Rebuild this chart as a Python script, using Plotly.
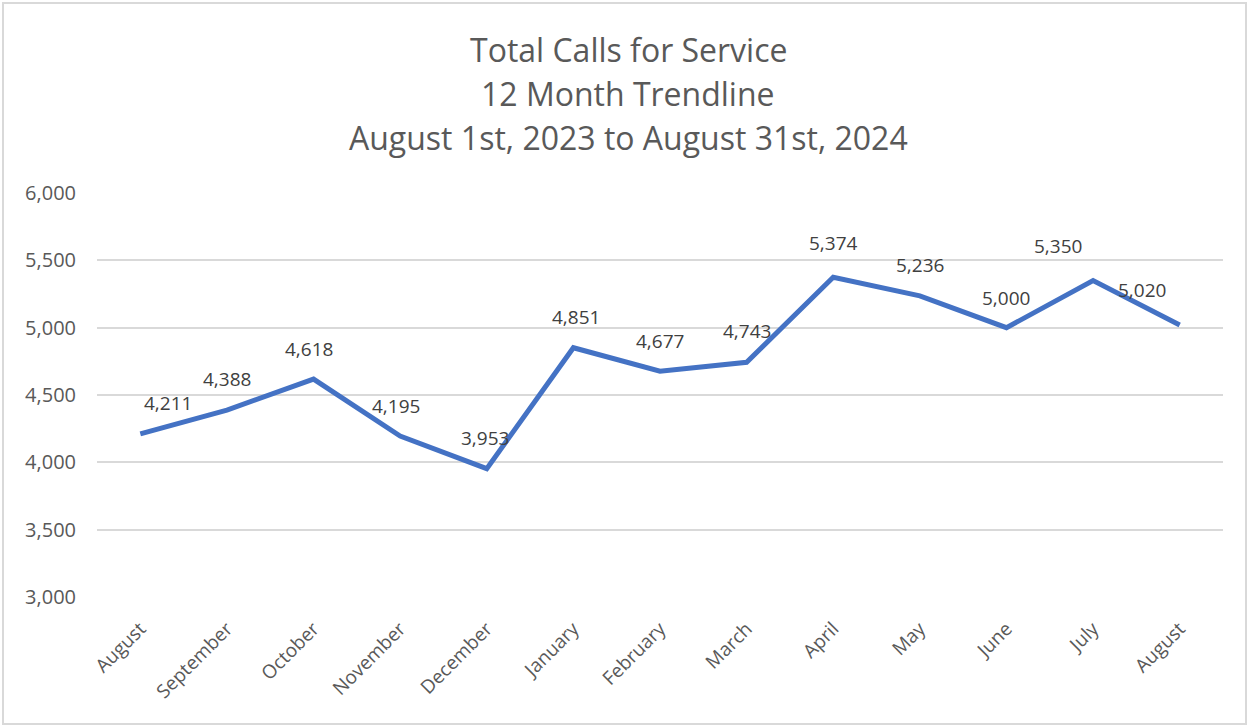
import plotly.graph_objects as go

months = ["August", "September", "October", "November", "December", "January",
          "February", "March", "April", "May", "June", "July", "August"]
calls = [4211, 4388, 4618, 4195, 3953, 4851, 4677, 4743, 5374, 5236, 5000, 5350, 5020]
y_ticks = [3000, 3500, 4000, 4500, 5000, 5500, 6000]
title_lines = ["Total Calls for Service", "12 Month Trendline",
               "August 1st, 2023 to August 31st, 2024"]

# label nudges (style only)
label_dx = [28, 0, -5, -4, -2, 3, 0, 0, 0, 0, 0, -35, -38]
label_dy = [31, 31, 30, 30, 31, 31, 30, 31, 34, 31, 30, 35, 35]

FONT = "Open Sans"
GRAY = "#595959"
idx = list(range(len(months)))

fig = go.Figure()
fig.add_trace(go.Scatter(
    x=idx, y=calls, mode="lines",
    line=dict(color="#4472C4", width=5),
    hoverinfo="skip", showlegend=False,
))

for i, v in enumerate(calls):
    fig.add_annotation(
        x=idx[i], y=v, text=f"{v:,}", showarrow=False,
        xshift=label_dx[i], yshift=label_dy[i],
        font=dict(family=FONT, size=19, color="#404040"),
    )

# title lines (page-pixel centres 50, 94, 137)
for k, line in enumerate(title_lines):
    fig.add_annotation(
        xref="paper", yref="paper",
        x=(628 - 97) / 1126, y=(597 - (50 + 43.5 * k)) / 404,
        xanchor="center", yanchor="middle",
        text=line, showarrow=False,
        font=dict(family=FONT, size=32, color=GRAY),
    )

fig.update_layout(
    width=1249, height=727,
    paper_bgcolor="white", plot_bgcolor="white",
    margin=dict(l=97, r=26, t=193, b=130),
    xaxis=dict(
        range=[-0.5, len(months) - 0.5],
        tickmode="array", tickvals=idx, ticktext=months,
        tickangle=-45, showgrid=False, zeroline=False, showline=False,
        ticks="", ticklabelstandoff=16,
        tickfont=dict(family=FONT, size=19, color=GRAY),
        fixedrange=True,
    ),
    yaxis=dict(
        range=[3000, 6000],
        tickmode="array", tickvals=y_ticks,
        tickformat=",d", showgrid=True, gridcolor="#D9D9D9", gridwidth=2,
        zeroline=False, showline=False, ticks="", ticklabelstandoff=20,
        tickfont=dict(family=FONT, size=20, color=GRAY),
        fixedrange=True,
    ),
    shapes=[dict(
        type="rect", xref="paper", yref="paper",
        x0=(3 - 97) / 1126, x1=(1246 - 97) / 1126,
        y0=(597 - 724) / 404, y1=(597 - 3) / 404,
        line=dict(color="#D9D9D9", width=2), fillcolor="rgba(0,0,0,0)",
        layer="below",
    )],
)

fig.write_html(
    "out.html",
    config={"displayModeBar": False},
    post_script="document.body.style.margin='0';document.body.style.overflow='hidden';",
)
